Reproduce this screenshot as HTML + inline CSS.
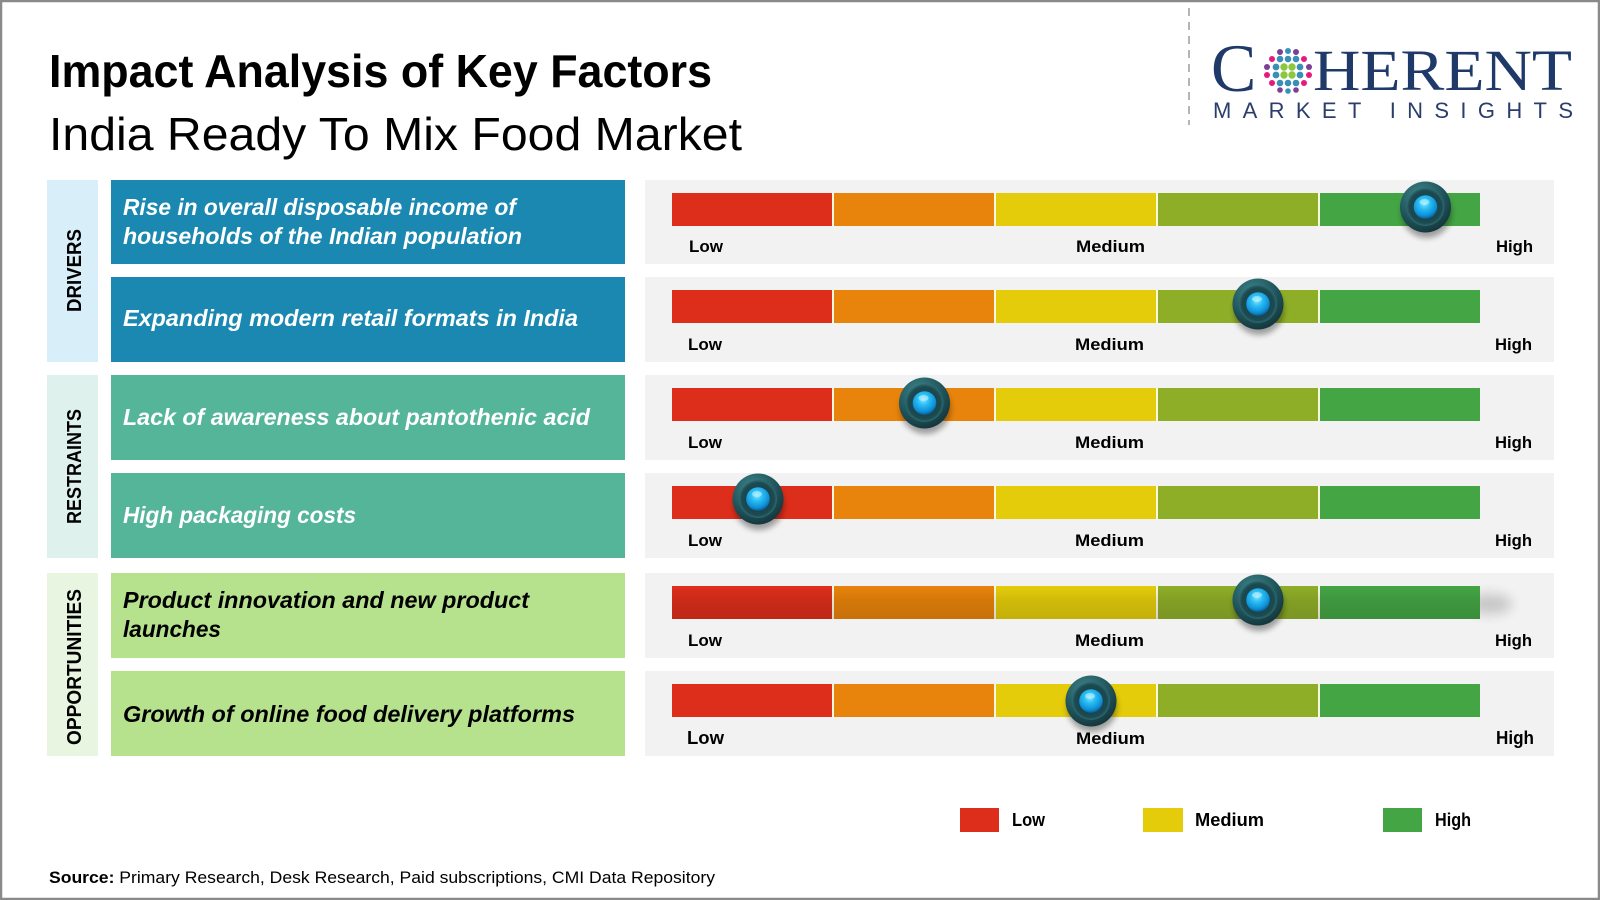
<!DOCTYPE html>
<html>
<head>
<meta charset="utf-8">
<style>
html,body{margin:0;padding:0;background:#fff;}
svg{display:block;}
text{font-family:"Liberation Sans",sans-serif;}
</style>
</head>
<body>
<svg width="1600" height="900" viewBox="0 0 1600 900" xmlns="http://www.w3.org/2000/svg">
<defs>
  <radialGradient id="blue" cx="0.45" cy="0.35" r="0.65">
    <stop offset="0" stop-color="#8fe8ff"/>
    <stop offset="0.35" stop-color="#2cc0f5"/>
    <stop offset="0.8" stop-color="#0e8fd6"/>
    <stop offset="1" stop-color="#0a5e98"/>
  </radialGradient>
  <radialGradient id="ring" cx="0.4" cy="0.3" r="0.75">
    <stop offset="0" stop-color="#3f8a90"/>
    <stop offset="0.6" stop-color="#21555c"/>
    <stop offset="1" stop-color="#123238"/>
  </radialGradient>
  <radialGradient id="inner" cx="0.5" cy="0.5" r="0.5">
    <stop offset="0" stop-color="#153d43"/>
    <stop offset="0.85" stop-color="#1c4a51"/>
    <stop offset="1" stop-color="#2e6c72"/>
  </radialGradient>
  <filter id="blur3" x="-50%" y="-50%" width="200%" height="200%">
    <feGaussianBlur stdDeviation="3"/>
  </filter>
  <filter id="blur6" x="-50%" y="-50%" width="200%" height="200%">
    <feGaussianBlur stdDeviation="6"/>
  </filter>
  <linearGradient id="shade" x1="0" y1="0" x2="0" y2="1">
    <stop offset="0" stop-color="#000" stop-opacity="0"/>
    <stop offset="0.45" stop-color="#000" stop-opacity="0.09"/>
    <stop offset="1" stop-color="#000" stop-opacity="0.14"/>
  </linearGradient>
  <g id="knob">
    <ellipse cx="1" cy="6" rx="25" ry="25" fill="#000" opacity="0.35" filter="url(#blur3)"/>
    <circle r="25.5" fill="url(#ring)"/>
    <circle r="19" fill="url(#inner)"/>
    <circle r="11.8" fill="url(#blue)"/>
    <ellipse cx="-1" cy="-5" rx="5" ry="3" fill="#c8f4ff" opacity="0.55"/>
  </g>
  <g id="bar">
    <rect x="672" y="0" width="808" height="33" fill="#fbf8e0"/>
    <rect x="672" y="0" width="160" height="33" fill="#dd2e1b"/>
    <rect x="834" y="0" width="160" height="33" fill="#e8830b"/>
    <rect x="996" y="0" width="160" height="33" fill="#e4cc0a"/>
    <rect x="1158" y="0" width="160" height="33" fill="#8fae28"/>
    <rect x="1320" y="0" width="160" height="33" fill="#44a544"/>
  </g>
</defs>

<!-- border -->
<rect x="1" y="1" width="1598" height="898" fill="#fff" stroke="#8a8a8a" stroke-width="2.5"/>

<!-- titles -->
<text x="49" y="87" font-size="46" font-weight="bold" fill="#000" textLength="663" lengthAdjust="spacingAndGlyphs">Impact Analysis of Key Factors</text>
<text x="49" y="150" font-size="46" fill="#000" textLength="693" lengthAdjust="spacingAndGlyphs">India Ready To Mix Food Market</text>

<!-- logo -->
<line x1="1189" y1="8" x2="1189" y2="125" stroke="#b5b5b5" stroke-width="2" stroke-dasharray="8 6"/>
<text x="1211" y="91" font-size="68" fill="#1f3a68" style="font-family:'Liberation Serif',serif">C</text>
<text x="1313" y="90" font-size="58" fill="#1f3a68" textLength="259" lengthAdjust="spacingAndGlyphs" style="font-family:'Liberation Serif',serif">HERENT</text>
<g>
  <circle cx="1280" cy="52" r="3" fill="#7b3f98"/><circle cx="1288" cy="51" r="3" fill="#3a8fb7"/><circle cx="1296" cy="52" r="3" fill="#7b3f98"/>
  <circle cx="1272" cy="59" r="3" fill="#e6197e"/><circle cx="1280" cy="59" r="3.3" fill="#3a8fb7"/><circle cx="1288" cy="59" r="3.3" fill="#3a8fb7"/><circle cx="1296" cy="59" r="3.3" fill="#3a8fb7"/><circle cx="1304" cy="59" r="3" fill="#e6197e"/>
  <circle cx="1267" cy="67" r="3" fill="#7b3f98"/><circle cx="1276" cy="67" r="3.4" fill="#3a8fb7"/><circle cx="1284" cy="67" r="3.7" fill="#8dc63f"/><circle cx="1292" cy="67" r="3.7" fill="#8dc63f"/><circle cx="1300" cy="67" r="3.4" fill="#3a8fb7"/><circle cx="1309" cy="67" r="3" fill="#7b3f98"/>
  <circle cx="1267" cy="75" r="3" fill="#e6197e"/><circle cx="1276" cy="75" r="3.4" fill="#3a8fb7"/><circle cx="1284" cy="75" r="3.7" fill="#8dc63f"/><circle cx="1292" cy="75" r="3.7" fill="#8dc63f"/><circle cx="1300" cy="75" r="3.4" fill="#3a8fb7"/><circle cx="1309" cy="75" r="3" fill="#e6197e"/>
  <circle cx="1272" cy="83" r="3" fill="#e6197e"/><circle cx="1280" cy="83" r="3.3" fill="#3a8fb7"/><circle cx="1288" cy="83" r="3.3" fill="#3a8fb7"/><circle cx="1296" cy="83" r="3.3" fill="#3a8fb7"/><circle cx="1304" cy="83" r="3" fill="#e6197e"/>
  <circle cx="1280" cy="90" r="2.8" fill="#7b3f98"/><circle cx="1288" cy="91" r="2.8" fill="#3a8fb7"/><circle cx="1296" cy="90" r="2.8" fill="#7b3f98"/>
</g>
<text x="1213" y="118" font-size="22" fill="#2b3e6b" textLength="360" lengthAdjust="spacing">MARKET INSIGHTS</text>

<!-- category side boxes -->
<rect x="47" y="180" width="51" height="182" fill="#d8eff9"/>
<rect x="47" y="375" width="51" height="183" fill="#dff1ec"/>
<rect x="47" y="573" width="51" height="183" fill="#e8f5e1"/>
<text transform="translate(81,270.5) rotate(-90)" text-anchor="middle" font-size="20.5" font-weight="bold" fill="#000" textLength="83" lengthAdjust="spacingAndGlyphs">DRIVERS</text>
<text transform="translate(81,466.5) rotate(-90)" text-anchor="middle" font-size="20.5" font-weight="bold" fill="#000" textLength="115" lengthAdjust="spacingAndGlyphs">RESTRAINTS</text>
<text transform="translate(81,667) rotate(-90)" text-anchor="middle" font-size="20.5" font-weight="bold" fill="#000" textLength="156" lengthAdjust="spacingAndGlyphs">OPPORTUNITIES</text>

<!-- factor boxes -->
<rect x="111" y="180" width="514" height="84" fill="#1a88b0"/>
<rect x="111" y="277" width="514" height="85" fill="#1a88b0"/>
<rect x="111" y="375" width="514" height="85" fill="#54b599"/>
<rect x="111" y="473" width="514" height="85" fill="#54b599"/>
<rect x="111" y="573" width="514" height="85" fill="#b6e28e"/>
<rect x="111" y="671" width="514" height="85" fill="#b6e28e"/>

<g font-size="23" font-weight="bold" font-style="italic">
  <text x="123" y="215" fill="#fff" textLength="393" lengthAdjust="spacingAndGlyphs">Rise in overall disposable income of</text>
  <text x="123" y="244" fill="#fff" textLength="399" lengthAdjust="spacingAndGlyphs">households of the Indian population</text>
  <text x="123" y="326" fill="#fff" textLength="455" lengthAdjust="spacingAndGlyphs">Expanding modern retail formats in India</text>
  <text x="123" y="425" fill="#fff" textLength="467" lengthAdjust="spacingAndGlyphs">Lack of awareness about pantothenic acid</text>
  <text x="123" y="523" fill="#fff" textLength="233" lengthAdjust="spacingAndGlyphs">High packaging costs</text>
  <text x="123" y="608" fill="#000" textLength="406" lengthAdjust="spacingAndGlyphs">Product innovation and new product</text>
  <text x="123" y="637" fill="#000" textLength="98" lengthAdjust="spacingAndGlyphs">launches</text>
  <text x="123" y="722" fill="#000" textLength="452" lengthAdjust="spacingAndGlyphs">Growth of online food delivery platforms</text>
</g>

<!-- gauge panels -->
<rect x="645" y="180" width="909" height="84" fill="#f2f2f2"/>
<rect x="645" y="277" width="909" height="85" fill="#f2f2f2"/>
<rect x="645" y="375" width="909" height="85" fill="#f2f2f2"/>
<rect x="645" y="473" width="909" height="85" fill="#f2f2f2"/>
<rect x="645" y="573" width="909" height="85" fill="#f2f2f2"/>
<rect x="645" y="671" width="909" height="85" fill="#f2f2f2"/>

<!-- bars -->
<use href="#bar" y="193"/>
<use href="#bar" y="290"/>
<use href="#bar" y="388"/>
<use href="#bar" y="486"/>
<ellipse cx="1490" cy="604" rx="22" ry="10" fill="#000" opacity="0.18" filter="url(#blur6)"/>
<use href="#bar" y="586"/>
<rect x="672" y="586" width="808" height="33" fill="url(#shade)"/>
<use href="#bar" y="684"/>

<!-- labels -->
<g font-size="17" font-weight="bold" fill="#000">
  <text x="689" y="252" textLength="34" lengthAdjust="spacingAndGlyphs">Low</text>
  <text x="1076" y="252" textLength="69" lengthAdjust="spacingAndGlyphs">Medium</text>
  <text x="1496" y="252" textLength="37" lengthAdjust="spacingAndGlyphs">High</text>
  <text x="688" y="350" textLength="34" lengthAdjust="spacingAndGlyphs">Low</text>
  <text x="1075" y="350" textLength="69" lengthAdjust="spacingAndGlyphs">Medium</text>
  <text x="1495" y="350" textLength="37" lengthAdjust="spacingAndGlyphs">High</text>
  <text x="688" y="448" textLength="34" lengthAdjust="spacingAndGlyphs">Low</text>
  <text x="1075" y="448" textLength="69" lengthAdjust="spacingAndGlyphs">Medium</text>
  <text x="1495" y="448" textLength="37" lengthAdjust="spacingAndGlyphs">High</text>
  <text x="688" y="546" textLength="34" lengthAdjust="spacingAndGlyphs">Low</text>
  <text x="1075" y="546" textLength="69" lengthAdjust="spacingAndGlyphs">Medium</text>
  <text x="1495" y="546" textLength="37" lengthAdjust="spacingAndGlyphs">High</text>
  <text x="688" y="646" textLength="34" lengthAdjust="spacingAndGlyphs">Low</text>
  <text x="1075" y="646" textLength="69" lengthAdjust="spacingAndGlyphs">Medium</text>
  <text x="1495" y="646" textLength="37" lengthAdjust="spacingAndGlyphs">High</text>
  <text x="687" y="744" font-size="18" textLength="37" lengthAdjust="spacingAndGlyphs">Low</text>
  <text x="1076" y="744" textLength="69" lengthAdjust="spacingAndGlyphs">Medium</text>
  <text x="1496" y="744" font-size="18" textLength="38" lengthAdjust="spacingAndGlyphs">High</text>
</g>

<!-- knobs -->
<use href="#knob" transform="translate(1425.5,207)"/>
<use href="#knob" transform="translate(1258,304)"/>
<use href="#knob" transform="translate(924.5,403)"/>
<use href="#knob" transform="translate(758,499)"/>
<use href="#knob" transform="translate(1258,600)"/>
<use href="#knob" transform="translate(1091,701)"/>

<!-- legend -->
<rect x="960" y="808" width="39" height="24" fill="#dd2e1b"/>
<rect x="1143" y="808" width="40" height="24" fill="#e4cc0a"/>
<rect x="1383" y="808" width="39" height="24" fill="#44a544"/>
<g font-size="18" font-weight="bold" fill="#000">
  <text x="1012" y="826" textLength="33" lengthAdjust="spacingAndGlyphs">Low</text>
  <text x="1195" y="826" textLength="69" lengthAdjust="spacingAndGlyphs">Medium</text>
  <text x="1435" y="826" textLength="36" lengthAdjust="spacingAndGlyphs">High</text>
</g>

<!-- source -->
<text x="49" y="883" font-size="16.5" fill="#000" textLength="666" lengthAdjust="spacingAndGlyphs"><tspan font-weight="bold">Source:</tspan> Primary Research, Desk Research, Paid subscriptions, CMI Data Repository</text>
</svg>
</body>
</html>
